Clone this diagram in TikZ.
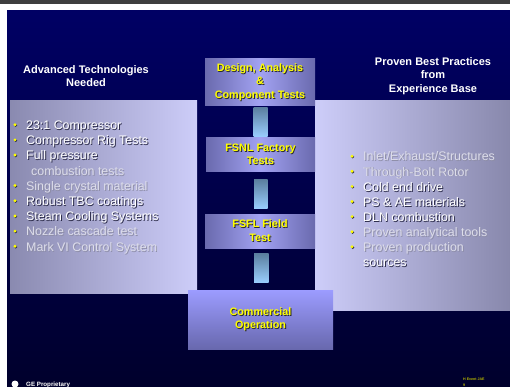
\documentclass[tikz,border=0pt]{standalone}
\usepackage{fontspec}
\setmainfont{Liberation Sans}
\definecolor{topline}{HTML}{3E3E3E}
\definecolor{navytop}{HTML}{000064}
\definecolor{navybot}{HTML}{00002C}
\definecolor{lpl}{HTML}{8A8AB0}
\definecolor{lpr}{HTML}{CDCDF9}
\definecolor{rpl}{HTML}{CDCDF9}
\definecolor{rpr}{HTML}{8888AC}
\definecolor{boxedge}{HTML}{6A6AAE}
\definecolor{boxmid}{HTML}{A2A2F2}
\definecolor{comtop}{HTML}{9C9CFF}
\definecolor{combot}{HTML}{6868AE}
\definecolor{bartop}{HTML}{5A7E9E}
\definecolor{barbot}{HTML}{9ACEFF}
\definecolor{yel}{HTML}{FFFF00}
\definecolor{yshadow}{HTML}{2A2A30}
\definecolor{wtext}{HTML}{FFFFFF}
\definecolor{wshadow}{HTML}{2A2A48}
\definecolor{gtext}{HTML}{DDDDEA}
\definecolor{gshadow}{HTML}{8E8EA8}
\definecolor{footy}{HTML}{B8B800}
\newcommand\shtext[3]{\makebox[0pt][l]{\hspace{0.9pt}\raisebox{-0.9pt}{\textcolor{#2}{#3}}}\textcolor{#1}{#3}}
\newcommand\wt[1]{\shtext{wtext}{wshadow}{#1}}
\newcommand\gt[1]{\shtext{gtext}{gshadow}{#1}}
\newcommand\yt[1]{\shtext{yel}{yshadow}{#1}}
\tikzset{
  hdr/.style={anchor=base, inner sep=0pt, text=white, font=\bfseries\fontsize{11}{13}\selectfont},
  item/.style={anchor=base west, inner sep=0pt, font=\fontsize{12.4}{15}\selectfont},
  bulshadow/.style={circle, fill=wshadow, inner sep=0pt, minimum size=3.2pt},
  bullet/.style={circle, fill=yel, inner sep=0pt, minimum size=3.2pt},
  stagebox/.style={inner sep=0pt, align=center, left color=boxedge, right color=boxedge, middle color=boxmid,
     font=\bfseries\fontsize{10.8}{13.4}\selectfont},
  combox/.style={inner sep=0pt, align=center, top color=comtop, bottom color=combot,
     font=\bfseries\fontsize{10.8}{13.2}\selectfont},
  barshade/.style={top color=bartop, bottom color=barbot}
}
\begin{document}
\begin{tikzpicture}[x=1pt,y=-1pt]
\useasboundingbox (0,0) rectangle (510,387);
\fill[white] (0,0) rectangle (510,387);
\fill[topline] (0,0.5) rectangle (510,4);
\shade[top color=navytop, bottom color=navybot] (7,11) rectangle (510,387);
% side panels
\shade[left color=lpl, right color=lpr] (10,101) rectangle (197,293);
\shade[left color=rpl, right color=rpr] (315,101) rectangle (510,310);
% headers
\node[hdr] (hl1) at (86,74) {Advanced Technologies};
\node[hdr] (hl2) at (86,86.5) {Needed};
\node[hdr] (hr1) at (433,66) {Proven Best Practices};
\node[hdr] (hr2) at (433,79) {from};
\node[hdr] (hr3) at (433,92.5) {Experience Base};
% stage boxes
\node[stagebox, minimum width=110pt, minimum height=47pt] (design) at (260,82.5)
  {\yt{Design, Analysis}\\\yt{\&}\\\yt{Component Tests}};
\node[stagebox, minimum width=109pt, minimum height=34pt] (fsnl) at (260.5,155)
  {\yt{FSNL Factory}\\\yt{Tests}};
\node[stagebox, minimum width=110pt, minimum height=34pt] (fsfl) at (260,231)
  {\yt{FSFL Field}\\\yt{Test}};
% connector bars
\shade[barshade] ([xshift=-6.5pt,yshift=-1pt]design.south) rectangle ([xshift=7pt,yshift=1pt]fsnl.north);
\shade[barshade] ([xshift=-6.5pt,yshift=-7pt]fsnl.south) rectangle ([xshift=7.5pt,yshift=5pt]fsfl.north);
\node[combox, minimum width=145pt, minimum height=59pt] (comm) at (260.5,319.5)
  {\yt{Commercial}\\\yt{Operation}};
\shade[barshade] ([xshift=-6pt,yshift=-5pt]fsfl.south) rectangle ([xshift=8pt,yshift=7pt]comm.north);
% left list
\foreach \n/\y in {1/129.5,2/144.7,3/159.9,5/190.3,6/205.5,7/220.7,8/235.9,9/251.1}{
  \node[bulshadow] (lbs\n) at (15.7,\y-4.1) {};
  \node[bullet] (lb\n) at (15,\y-4.8) {};
}
\node[item] (l1) at (26,129.5) {\wt{23:1 Compressor}};
\node[item] (l2) at (26,144.7) {\wt{Compressor Rig Tests}};
\node[item] (l3) at (26,159.9) {\wt{Full pressure}};
\node[item] (l4) at (31,175.1) {\gt{combustion tests}};
\node[item] (l5) at (26,190.3) {\gt{Single crystal material}};
\node[item] (l6) at (26,205.5) {\wt{Robust TBC coatings}};
\node[item] (l7) at (26,220.7) {\wt{Steam Cooling Systems}};
\node[item] (l8) at (26,235.9) {\gt{Nozzle cascade test}};
\node[item] (l9) at (26,251.1) {\gt{Mark VI Control System}};
% right list
\foreach \n/\y in {1/161,2/176.1,3/191.2,4/206.3,5/221.4,6/236.5,7/251.6}{
  \node[bulshadow] (rbs\n) at (352.7,\y-4.1) {};
  \node[bullet] (rb\n) at (352,\y-4.8) {};
}
\node[item] (r1) at (363,161) {\gt{Inlet/Exhaust/Structures}};
\node[item] (r2) at (363,176.1) {\gt{Through-Bolt Rotor}};
\node[item] (r3) at (363,191.2) {\wt{Cold end drive}};
\node[item] (r4) at (363,206.3) {\wt{PS \& AE materials}};
\node[item] (r5) at (363,221.4) {\wt{DLN combustion}};
\node[item] (r6) at (363,236.5) {\gt{Proven analytical tools}};
\node[item] (r7) at (363,251.6) {\gt{Proven production}};
\node[item] (r8) at (363,266.7) {\wt{sources}};
% footer
\node[circle, fill=white, inner sep=0pt, minimum size=7pt] (gedot) at (15,384) {};
\node[anchor=base west, inner sep=0pt, text=white, font=\bfseries\fontsize{6.2}{7}\selectfont] (ge) at (26,386.3) {GE Proprietary};
\node[anchor=base west, inner sep=0pt, text=footy, font=\bfseries\fontsize{3.6}{4}\selectfont] (hev) at (463,380.5) {H Event JAE};
\node[anchor=base west, inner sep=0pt, text=footy, font=\bfseries\fontsize{3.6}{4}\selectfont] (pg) at (463,386) {9};
\end{tikzpicture}
\end{document}
